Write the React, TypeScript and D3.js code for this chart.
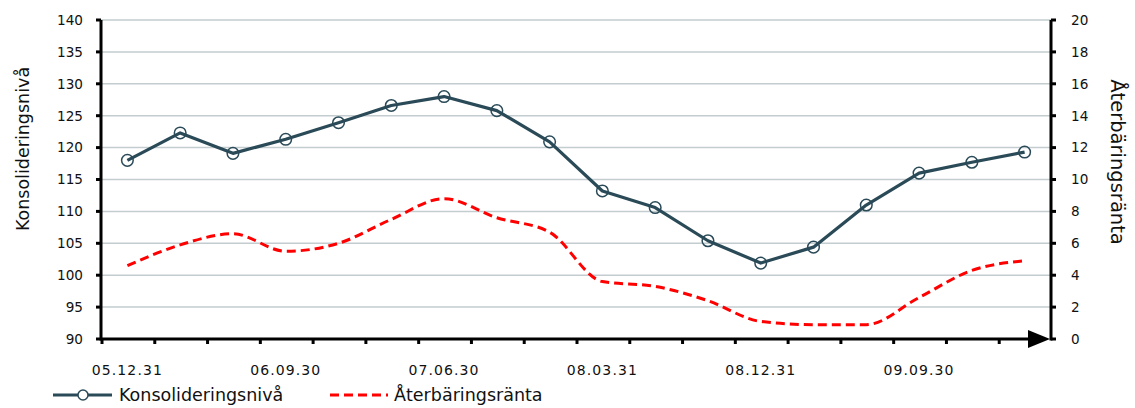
import * as d3 from 'd3';

// quarters from 05.12.31 to 10.03.31
const categories = [
  '05.12.31', '06.03.31', '06.06.30', '06.09.30', '06.12.31', '07.03.31',
  '07.06.30', '07.09.30', '07.12.31', '08.03.31', '08.06.30', '08.09.30',
  '08.12.31', '09.03.31', '09.06.30', '09.09.30', '09.12.31', '10.03.31',
];
const shownLabels = ['05.12.31', '06.09.30', '07.06.30', '08.03.31', '08.12.31', '09.09.30'];

const konsolidering = [
  118.0, 122.3, 119.1, 121.3, 123.9, 126.6, 128.0, 125.8, 120.9,
  113.2, 110.6, 105.4, 101.9, 104.4, 111.0, 116.0, 117.7, 119.3,
];
const aterbaring = [
  4.6, 5.9, 6.6, 5.5, 6.0, 7.5, 8.8, 7.6, 6.7,
  3.6, 3.3, 2.4, 1.1, 0.9, 0.9, 2.6, 4.3, 4.9,
];

const leftTicks = d3.range(90, 141, 5);
const rightTicks = d3.range(0, 21, 2);

const W = 1135, H = 408;
const left = 101, right = 1051, top = 20, bottom = 339;
const font = '"DejaVu Sans", Verdana, sans-serif';
const navy = '#2a4a58';

export default function App() {
  const x = d3.scaleBand<string>().domain(categories).range([left, right]).padding(0);
  const yL = d3.scaleLinear().domain([90, 140]).range([bottom, top]);
  const yR = d3.scaleLinear().domain([0, 20]).range([bottom, top]);
  const cx = (c: string) => (x(c) ?? 0) + x.bandwidth() / 2;

  const lineK = d3.line<number>().x((_, i) => cx(categories[i])).y(d => yL(d));
  const lineA = d3.line<number>()
    .x((_, i) => cx(categories[i]))
    .y(d => yR(d))
    .curve(d3.curveMonotoneX);

  const bounds = categories.map(c => x(c) ?? 0);

  return (
    <svg width={W} height={H} style={{ position: 'absolute', left: 0, top: 0, background: '#fff' }}
      fontFamily={font}>
      {/* grid */}
      {leftTicks.filter(t => t !== 90).map(t => (
        <line key={t} x1={left} x2={right} y1={yL(t)} y2={yL(t)} stroke="#c3cccf" strokeWidth={1.5} />
      ))}

      {/* left axis */}
      <line x1={left} x2={left} y1={top} y2={bottom + 1.5} stroke="#000" strokeWidth={3} />
      {leftTicks.map(t => (
        <g key={t}>
          <line x1={left - 5} x2={left} y1={yL(t)} y2={yL(t)} stroke="#000" strokeWidth={3} />
          <text x={83} y={yL(t)} dy="0.36em" textAnchor="end" fontSize={13.6} fill="#111">{t}</text>
        </g>
      ))}
      <text transform={`translate(29,149) rotate(-90)`} textAnchor="middle"
        fontSize={17.5} fill="#111">Konsolideringsnivå</text>

      {/* right axis */}
      <line x1={right} x2={right} y1={top} y2={bottom + 1.5} stroke="#000" strokeWidth={3} />
      {rightTicks.map(t => (
        <g key={t}>
          <line x1={right} x2={right + 5} y1={yR(t)} y2={yR(t)} stroke="#000" strokeWidth={3} />
          <text x={1071} y={yR(t)} dy="0.36em" textAnchor="start" fontSize={13.6} fill="#111">{t}</text>
        </g>
      ))}
      <text transform={`translate(1111,162) rotate(90)`} textAnchor="middle"
        fontSize={19.5} fill="#111">Återbäringsränta</text>

      {/* bottom axis */}
      <line x1={left} x2={1032} y1={bottom} y2={bottom} stroke="#000" strokeWidth={3} />
      <path d={`M1028,${bottom - 9} L1050,${bottom} L1028,${bottom + 9} Z`} fill="#000" />
      {bounds.map((b, i) => (
        <line key={i} x1={b + 1} x2={b + 1} y1={bottom} y2={bottom + 5} stroke="#000" strokeWidth={3} />
      ))}
      {shownLabels.map(l => (
        <text key={l} x={cx(l)} y={375} textAnchor="middle" fontSize={14} letterSpacing={1.1} fill="#111">{l}</text>
      ))}

      {/* series */}
      <path d={lineA(aterbaring) ?? ''} fill="none" stroke="#ff0000" strokeWidth={3}
        strokeDasharray="9 5" />
      <path d={lineK(konsolidering) ?? ''} fill="none" stroke={navy} strokeWidth={3.2} strokeLinejoin="round" />
      {konsolidering.map((v, i) => (
        <circle key={i} cx={cx(categories[i])} cy={yL(v)} r={5.8} fill="none" stroke={navy} strokeWidth={1.5} />
      ))}

      {/* legend */}
      <line x1={53} x2={112} y1={395} y2={395} stroke={navy} strokeWidth={3.2} />
      <circle cx={83} cy={395} r={5} fill="#fff" stroke={navy} strokeWidth={1.5} />
      <text x={119} y={401} fontSize={17.5} fill="#111">Konsolideringsnivå</text>
      <line x1={330} x2={388} y1={395} y2={395} stroke="#ff0000" strokeWidth={3} strokeDasharray="9 5" />
      <text x={394} y={401} fontSize={17.5} fill="#111">Återbäringsränta</text>
    </svg>
  );
}
